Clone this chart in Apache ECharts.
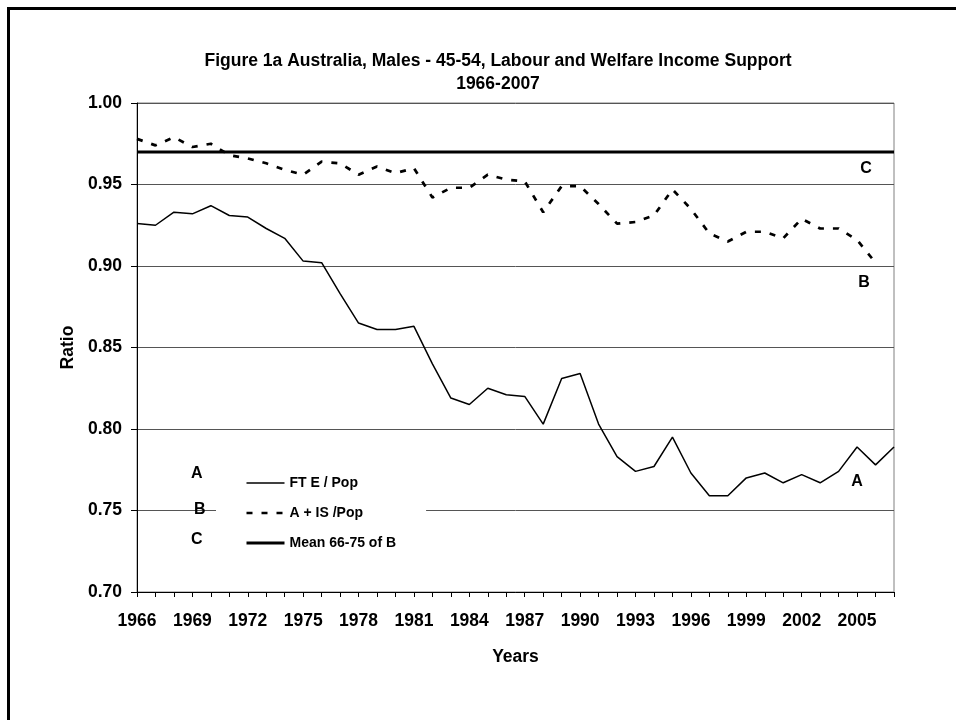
<!DOCTYPE html>
<html>
<head>
<meta charset="utf-8">
<title>Figure 1a Australia, Males 45-54</title>
<script src="https://cdn.jsdelivr.net/npm/echarts@6/dist/echarts.min.js"></script>
<style>
  html, body { margin: 0; padding: 0; background: #fff; }
  #chart { width: 956px; height: 720px; }
</style>
</head>
<body>
<div id="chart"></div>
<script>
// years on the x axis
var years = ['1966','1967','1968','1969','1970','1971','1972','1973','1974','1975',
	'1976','1977','1978','1979','1980','1981','1982','1983','1984','1985',
	'1986','1987','1988','1989','1990','1991','1992','1993','1994','1995',
	'1996','1997','1998','1999','2000','2001','2002','2003','2004','2005',
	'2006','2007'];

// A : FT E / Pop
var ftePop = [0.926,0.925,0.933,0.932,0.937,0.931,0.930,0.923,0.917,0.903,
	0.902,0.883,0.865,0.861,0.861,0.863,0.840,0.819,0.815,0.825,
	0.821,0.820,0.803,0.831,0.834,0.803,0.783,0.774,0.777,0.795,
	0.773,0.759,0.759,0.770,0.773,0.767,0.772,0.767,0.774,0.789,
	0.778,0.789];

// B : A + IS / Pop  (no value for 2007)
var aisPop = [0.978,0.974,0.979,0.973,0.975,0.968,0.966,0.963,0.959,0.956,
	0.964,0.963,0.956,0.961,0.957,0.960,0.942,0.948,0.948,0.956,
	0.953,0.952,0.933,0.949,0.949,0.938,0.926,0.927,0.931,0.947,
	0.935,0.920,0.915,0.921,0.921,0.917,0.929,0.923,0.923,0.916,
	0.902,null];

// C : Mean 66-75 of B
var meanB = [0.970,0.970,0.970,0.970,0.970,0.970,0.970,0.970,0.970,0.970,
	0.970,0.970,0.970,0.970,0.970,0.970,0.970,0.970,0.970,0.970,
	0.970,0.970,0.970,0.970,0.970,0.970,0.970,0.970,0.970,0.970,
	0.970,0.970,0.970,0.970,0.970,0.970,0.970,0.970,0.970,0.970,
	0.970,0.970];

var seriesNames = ['FT E / Pop', 'A + IS /Pop', 'Mean 66-75 of B'];
var letters = ['A', 'B', 'C'];

var FONT = 'Liberation Sans, Arial, sans-serif';

// a letter written next to the end of a line
function letterMark(letter, value, dx) {
	return {
		symbol: 'circle',
		symbolSize: 1,
		itemStyle: { color: 'rgba(0,0,0,0)' },
		label: {
			show: true, position: 'inside', offset: [dx, 0],
			formatter: letter, color: '#000',
			fontFamily: FONT, fontSize: 16, fontWeight: 'bold'
		},
		data: [{ coord: ['2005', value] }]
	};
}

var myChart = echarts.init(document.getElementById('chart'));
var option = {
	animation: false,
	backgroundColor: '#fff',
	title: {
		text: 'Figure 1a Australia, Males - 45-54, Labour and Welfare Income Support\n1966-2007',
		left: 498,
		top: 50,
		padding: 0,
		textAlign: 'center',
		textStyle: { fontFamily: FONT, fontSize: 17.5, fontWeight: 'bold', color: '#000', lineHeight: 23 }
	},
	legend: {
		orient: 'vertical',
		left: 216,
		top: 466,
		padding: [10, 30, 10, 29],
		itemWidth: 38,
		itemHeight: 14,
		itemGap: 16,
		backgroundColor: '#fff',
		data: seriesNames,
		itemStyle: { opacity: 0 },
		lineStyle: { width: 'inherit' },
		textStyle: { fontFamily: FONT, fontSize: 14, fontWeight: 'bold', color: '#000' }
	},
	grid: {
		left: 137, right: 62, top: 103, bottom: 128,
		show: true, borderColor: '#808080', borderWidth: 1, backgroundColor: 'rgba(0,0,0,0)'
	},
	xAxis: {
		type: 'category',
		data: years,
		boundaryGap: false,
		name: 'Years',
		nameLocation: 'middle',
		nameGap: 56,
		nameTextStyle: { fontFamily: FONT, fontSize: 17.5, fontWeight: 'bold', color: '#000' },
		axisLine: { show: true, lineStyle: { color: '#000', width: 1 } },
		axisTick: { show: true, interval: 0, length: 5, lineStyle: { color: '#000' } },
		axisLabel: {
			interval: 2, margin: 20, color: '#000',
			fontFamily: FONT, fontSize: 17.5, fontWeight: 'bold'
		},
		splitLine: { show: false }
	},
	yAxis: {
		type: 'value',
		min: 0.70,
		max: 1.00,
		interval: 0.05,
		name: 'Ratio',
		nameLocation: 'middle',
		nameGap: 60,
		nameTextStyle: { fontFamily: FONT, fontSize: 17.5, fontWeight: 'bold', color: '#000' },
		axisLine: { show: true, lineStyle: { color: '#000', width: 1 } },
		axisTick: { show: true, length: 6, lineStyle: { color: '#000' } },
		axisLabel: {
			margin: 15, color: '#000',
			fontFamily: FONT, fontSize: 17.5, fontWeight: 'bold',
			formatter: function(v) { return v.toFixed(2); }
		},
		splitLine: { show: true, lineStyle: { color: '#555', width: 1 } }
	},
	series: [
		{
			name: seriesNames[0], type: 'line', data: ftePop,
			symbol: 'none', z: 3,
			lineStyle: { color: '#000', width: 1.5 },
			itemStyle: { color: '#000' },
			markPoint: letterMark('A', 0.7675, 0)
		},
		{
			name: seriesNames[1], type: 'line', data: aisPop,
			symbol: 'none', z: 3,
			lineStyle: { color: '#000', width: 2.7, type: [6, 9] },
			itemStyle: { color: '#000' },
			markPoint: letterMark('B', 0.890, 7)
		},
		{
			name: seriesNames[2], type: 'line', data: meanB,
			symbol: 'none', z: 3,
			lineStyle: { color: '#000', width: 3 },
			itemStyle: { color: '#000' },
			markPoint: letterMark('C', 0.960, 9)
		}
	],
	graphic: [
		// outer frame of the chart (only left and top edges are inside the picture)
		{
			type: 'rect', silent: true, z: 10,
			shape: { x: 8.5, y: 8.5, width: 1200, height: 1000 },
			style: { fill: 'none', stroke: '#000', lineWidth: 3 }
		},
		// letters before the legend
		{ type: 'text', left: 191, top: 466, z: 10,
			style: { text: letters[0], font: 'bold 16px ' + FONT, fill: '#000' } },
		{ type: 'text', left: 194, top: 502, z: 10,
			style: { text: letters[1], font: 'bold 16px ' + FONT, fill: '#000' } },
		{ type: 'text', left: 191, top: 532, z: 10,
			style: { text: letters[2], font: 'bold 16px ' + FONT, fill: '#000' } }
	]
};
myChart.setOption(option);
window.addEventListener('resize', function() {
	myChart.resize();
});
</script>
</body>
</html>
